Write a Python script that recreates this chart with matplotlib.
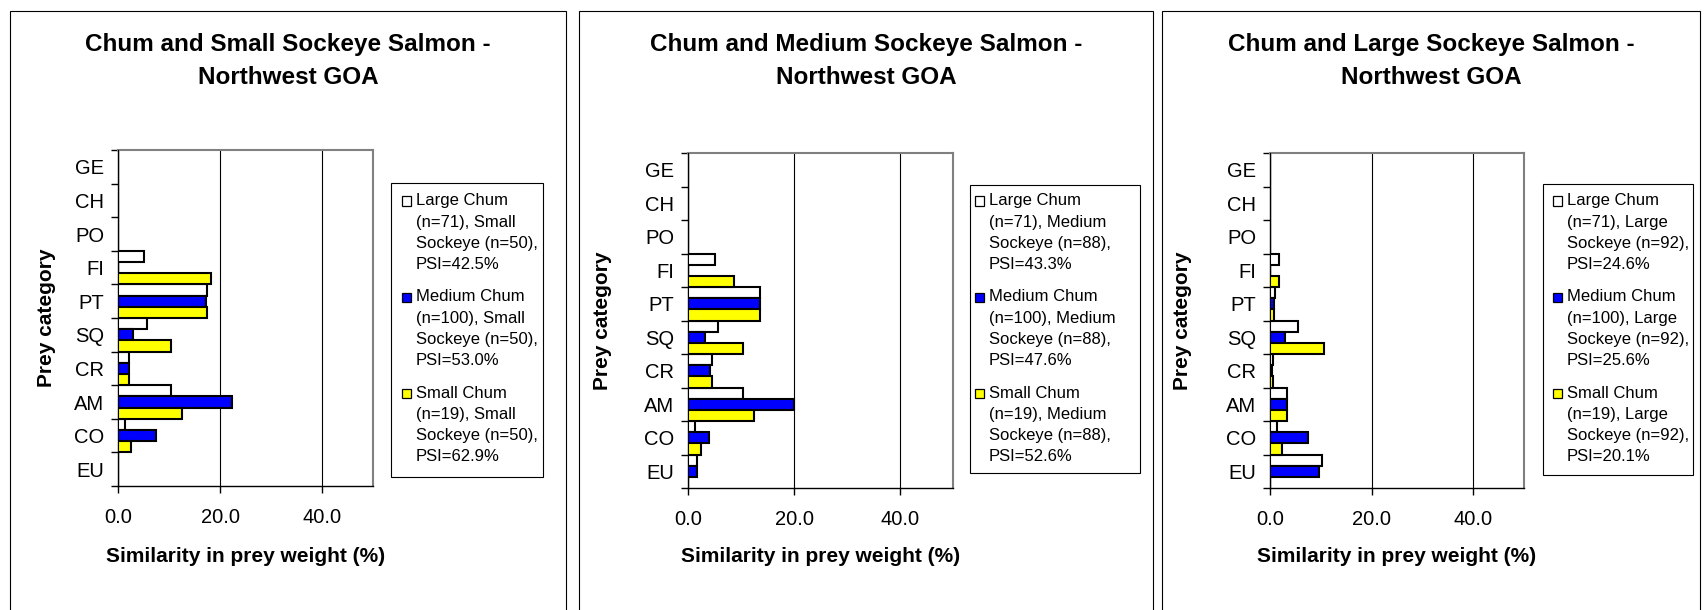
import matplotlib
matplotlib.use("Agg")
import matplotlib.pyplot as plt
from matplotlib.patches import Rectangle

plt.rcParams['font.family'] = ['Liberation Sans', 'DejaVu Sans']

W, H = 1705, 610

# ---------------------------------------------------------------- data
prey_categories = ["GE", "CH", "PO", "FI", "PT", "SQ", "CR", "AM", "CO", "EU"]
x_tick_values = [0, 20, 40]
x_tick_labels = ["0.0", "20.0", "40.0"]

panel_titles = [
    ("Chum and Small Sockeye Salmon -", "Northwest GOA"),
    ("Chum and Medium Sockeye Salmon -", "Northwest GOA"),
    ("Chum and Large Sockeye Salmon -", "Northwest GOA"),
]

# Similarity (%) per prey category, small sockeye
small_sock_large_chum = [0, 0, 0, 5.1, 17.4, 5.6, 2.2, 10.3, 1.4, 0]
small_sock_medium_chum = [0, 0, 0, 0, 17.3, 2.9, 2.2, 22.3, 7.5, 0]
small_sock_small_chum = [0, 0, 0, 18.2, 17.4, 10.3, 2.2, 12.5, 2.5, 0]

# medium sockeye
medium_sock_large_chum = [0, 0, 0, 5.0, 13.5, 5.7, 4.6, 10.4, 1.4, 1.7]
medium_sock_medium_chum = [0, 0, 0, 0, 13.5, 3.2, 4.2, 20.0, 3.9, 1.7]
medium_sock_small_chum = [0, 0, 0, 8.6, 13.5, 10.4, 4.6, 12.5, 2.4, 0]

# large sockeye
large_sock_large_chum = [0, 0, 0, 1.8, 1.0, 5.5, 0.6, 3.3, 1.4, 10.3]
large_sock_medium_chum = [0, 0, 0, 0, 0.85, 2.9, 0.45, 3.3, 7.4, 9.6]
large_sock_small_chum = [0, 0, 0, 1.8, 0.85, 10.6, 0.6, 3.3, 2.4, 0]

legend_labels = [
    ["Large Chum\n(n=71), Small\nSockeye (n=50),\nPSI=42.5%",
     "Medium Chum\n(n=100), Small\nSockeye (n=50),\nPSI=53.0%",
     "Small Chum\n(n=19), Small\nSockeye (n=50),\nPSI=62.9%"],
    ["Large Chum\n(n=71), Medium\nSockeye (n=88),\nPSI=43.3%",
     "Medium Chum\n(n=100), Medium\nSockeye (n=88),\nPSI=47.6%",
     "Small Chum\n(n=19), Medium\nSockeye (n=88),\nPSI=52.6%"],
    ["Large Chum\n(n=71), Large\nSockeye (n=92),\nPSI=24.6%",
     "Medium Chum\n(n=100), Large\nSockeye (n=92),\nPSI=25.6%",
     "Small Chum\n(n=19), Large\nSockeye (n=92),\nPSI=20.1%"],
]

series_colors = ["#FFFFFF", "#0000FF", "#FFFF00"]
x_label = "Similarity in prey weight (%)"
y_label = "Prey category"

panel_series = [
    [small_sock_large_chum, small_sock_medium_chum, small_sock_small_chum],
    [medium_sock_large_chum, medium_sock_medium_chum, medium_sock_small_chum],
    [large_sock_large_chum, large_sock_medium_chum, large_sock_small_chum],
]

# ---------------------------------------------------------------- layout (pixels)
panel_boxes = [(10, 11, 566), (579, 11, 1153), (1162, 11, 1700)]   # left, top, right
axes_boxes = [(118, 150, 373, 486), (688, 153, 953, 488), (1270, 153, 1524, 488)]
ylabel_x = [47, 602, 1183]
legend_boxes = [(391, 183, 543, 477), (970, 185, 1140, 473), (1543, 184, 1693, 475)]
legend_text_x = [416, 989, 1567]
legend_marker_x = [406, 979, 1557]
entry_tops = [201, 297, 393]
line_step = 21.2


def fx(x):
    return x / W


def fy(y):
    return 1 - y / H


fig = plt.figure(figsize=(W / 100, H / 100), dpi=100)

for p in range(3):
    # panel frame
    l, t, r = panel_boxes[p]
    fig.add_artist(Rectangle((fx(l), fy(640)), fx(r - l), (640 - t) / H,
                             transform=fig.transFigure, fill=False,
                             ec="black", lw=0.8))
    cx = (l + r) / 2
    fig.text(fx(cx), fy(44), panel_titles[p][0], ha="center", va="center",
             fontsize=17.5, fontweight="bold")
    fig.text(fx(cx), fy(77), panel_titles[p][1], ha="center", va="center",
             fontsize=17.5, fontweight="bold")

    x0, y0, x1, y1 = axes_boxes[p]
    ax = fig.add_axes([fx(x0), fy(y1), fx(x1 - x0), (y1 - y0) / H])
    ax.set_xlim(0, 50)
    ax.set_ylim(len(prey_categories), 0)
    ax.set_axisbelow(True)

    h = 1 / 3
    for s, values in enumerate(panel_series[p]):
        ys = [i + 0.5 + (s - 1) * h for i in range(len(prey_categories))]
        ax.barh(ys, values, height=h, color=series_colors[s],
                edgecolor="black", linewidth=1.5, zorder=3)

    ax.set_xticks(x_tick_values)
    ax.set_xticklabels(x_tick_labels, fontsize=14.5)
    ax.tick_params(axis="x", direction="out", length=5, width=1,
                   pad=11, color="black")
    ax.set_yticks([i + 0.5 for i in range(len(prey_categories))])
    ax.set_yticklabels(prey_categories, fontsize=14.5)
    ax.set_yticks(range(len(prey_categories) + 1), minor=True)
    ax.tick_params(axis="y", which="major", length=0, pad=10)
    ax.tick_params(axis="y", which="minor", direction="out", length=5,
                   width=1, color="black")
    ax.grid(axis="x", color="black", linewidth=0.8)

    for side in ("top", "right"):
        ax.spines[side].set_color("#808080")
        ax.spines[side].set_linewidth(1.5)
    for side in ("left", "bottom"):
        ax.spines[side].set_color("black")
        ax.spines[side].set_linewidth(1.0)

    fig.text(fx((x0 + x1) / 2), fy(557), x_label, ha="center", va="center",
             fontsize=15, fontweight="bold")
    fig.text(fx(ylabel_x[p]), fy((y0 + y1) / 2), y_label, ha="center",
             va="center", rotation=90, fontsize=15, fontweight="bold")

    # legend
    lx0, ly0, lx1, ly1 = legend_boxes[p]
    fig.add_artist(Rectangle((fx(lx0), fy(ly1)), fx(lx1 - lx0), (ly1 - ly0) / H,
                             transform=fig.transFigure, fill=False,
                             ec="black", lw=0.8))
    for e, label in enumerate(legend_labels[p]):
        top = entry_tops[e]
        m = 9
        fig.add_artist(Rectangle((fx(legend_marker_x[p] - m / 2), fy(top + m / 2)),
                                 fx(m), m / H, transform=fig.transFigure,
                                 fc=series_colors[e], ec="black", lw=0.9))
        for k, line in enumerate(label.split("\n")):
            fig.text(fx(legend_text_x[p]), fy(top + k * line_step), line,
                     ha="left", va="center", fontsize=12)

fig.savefig("out.png", dpi=100)
